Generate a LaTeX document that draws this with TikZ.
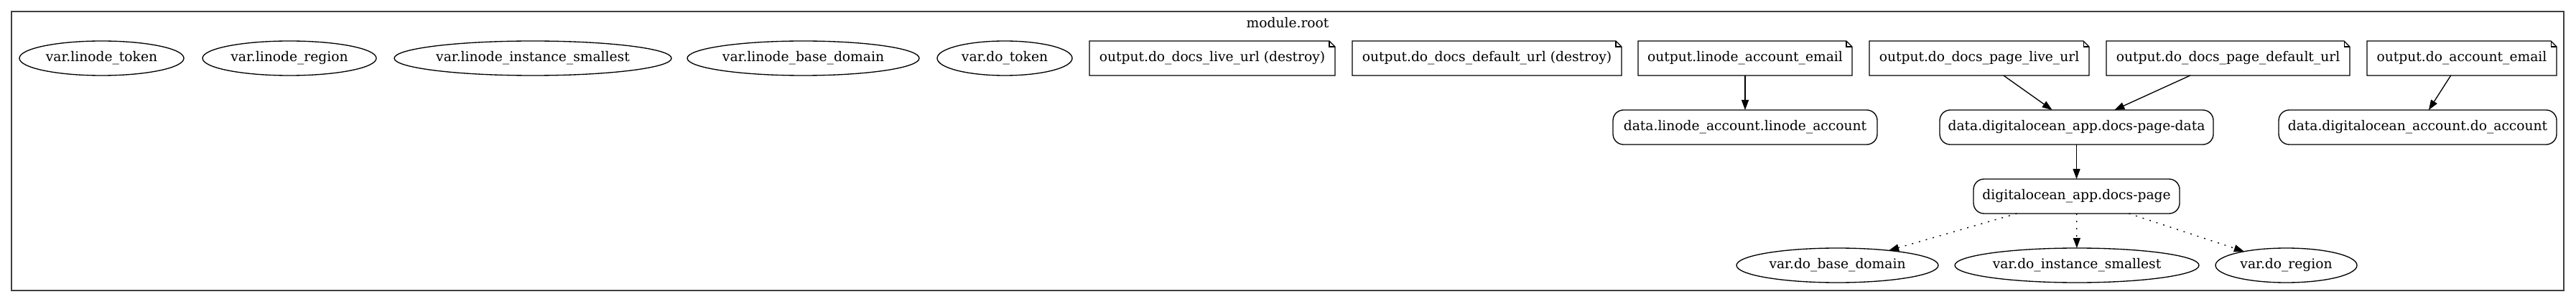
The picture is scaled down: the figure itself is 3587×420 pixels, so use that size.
\documentclass[tikz,border=0pt]{standalone}
\usepackage{fontspec}
\setmainfont{DejaVu Serif}
\usetikzlibrary{shapes.geometric,arrows.meta}
\newcommand\drawnoteshape[1]{%
  \draw[line width=1pt] (#1.north west) -- ([xshift=-6pt]#1.north east) -- ([yshift=-6pt]#1.north east) -- (#1.south east) -- (#1.south west) -- cycle;
  \draw[line width=0.8pt] ([xshift=-6pt]#1.north east) -- ([xshift=-6pt,yshift=-6pt]#1.north east) -- ([yshift=-6pt]#1.north east);}
\begin{document}
\begin{tikzpicture}[x=0.75pt,y=-0.75pt,
  every node/.style={font=\fontsize{14pt}{16pt}\selectfont, inner sep=0pt, outer sep=0pt},
  varnode/.style={ellipse, draw, line width=1pt, minimum height=36pt},
  databox/.style={rectangle, rounded corners=11pt, draw, line width=1pt, minimum height=36pt},
  notebox/.style={rectangle, minimum height=36pt},
  link/.style={line width=1pt, -{Triangle[length=10.5pt,width=7.5pt]}},
  dotlink/.style={link, dash pattern=on 1.5pt off 6pt}
]
\useasboundingbox (0,0) rectangle (3587,420);
% cluster
\node[draw=black!75, line width=1.2pt, minimum width=3554*0.75pt, minimum height=388*0.75pt] (root) at (1793,210) {};
\node (rootlabel) at (1793,32) {module.root};
% top row
\node[varnode, minimum width=229*0.75pt] (vlt) at (141.5,81) {var.linode\_token};
\node[varnode, minimum width=242*0.75pt] (vlr) at (403,81) {var.linode\_region};
\node[varnode, minimum width=386*0.75pt] (vlis) at (742,81) {var.linode\_instance\_smallest};
\node[varnode, minimum width=323*0.75pt] (vlbd) at (1118.5,81) {var.linode\_base\_domain};
\node[varnode, minimum width=188*0.75pt] (vdt) at (1399,81) {var.do\_token};
\node[notebox, minimum width=342*0.75pt] (o1) at (1688,81) {output.do\_docs\_live\_url (destroy)};
\node[notebox, minimum width=375*0.75pt] (o2) at (2070.5,81) {output.do\_docs\_default\_url (destroy)};
\node[notebox, minimum width=298*0.75pt] (o3) at (2430,81) {output.linode\_account\_email};
\node[notebox, minimum width=306*0.75pt] (o4) at (2756,81) {output.do\_docs\_page\_live\_url};
\node[notebox, minimum width=339*0.75pt] (o5) at (3102.5,81) {output.do\_docs\_page\_default\_url};
\node[notebox, minimum width=264*0.75pt] (o6) at (3428,81) {output.do\_account\_email};
\drawnoteshape{o1}
\drawnoteshape{o2}
\drawnoteshape{o3}
\drawnoteshape{o4}
\drawnoteshape{o5}
\drawnoteshape{o6}
% data row
\node[databox, minimum width=368*0.75pt] (dla) at (2430,177) {data.linode\_account.linode\_account};
\node[databox, minimum width=381*0.75pt] (dpd) at (2891.5,177) {data.digitalocean\_app.docs-page-data};
\node[databox, minimum width=387*0.75pt] (dda) at (3366.5,177) {data.digitalocean\_account.do\_account};
% resource
\node[databox, minimum width=287*0.75pt] (dp) at (2891.5,273) {digitalocean\_app.docs-page};
% bottom row
\node[varnode, minimum width=281*0.75pt] (vbd) at (2558.5,369) {var.do\_base\_domain};
\node[varnode, minimum width=340*0.75pt] (vis) at (2892,369) {var.do\_instance\_smallest};
\node[varnode, minimum width=197*0.75pt] (vr) at (3183.5,369) {var.do\_region};
% edges
\draw[link] (o3) -- (dla);
\draw[link] (o4) -- (dpd);
\draw[link] (o5) -- (dpd);
\draw[link] (o6) -- (dda);
\draw[link] (dpd) -- (dp);
\draw[dotlink] (dp) -- (vbd);
\draw[dotlink] (dp) -- (vis);
\draw[dotlink] (dp) -- (vr);
\end{tikzpicture}
\end{document}
